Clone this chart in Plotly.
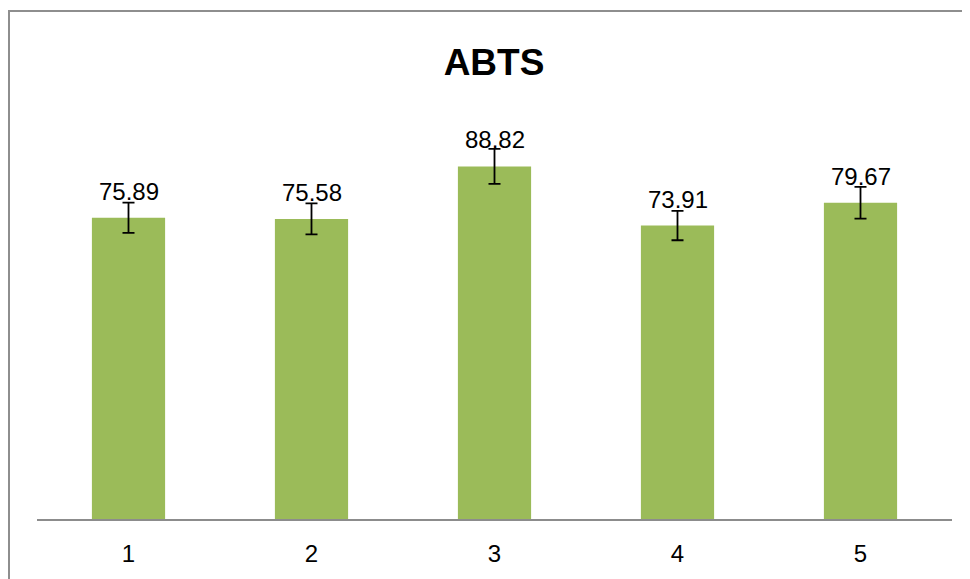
import plotly.graph_objects as go

categories = ["1", "2", "3", "4", "5"]
values = [75.89, 75.58, 88.82, 73.91, 79.67]
errors = [3.8, 3.9, 4.4, 3.7, 4.0]
labels = ["75.89", "75.58", "88.82", "73.91", "79.67"]

BAR = "#9BBB59"
FONT = "Liberation Sans, Arial, sans-serif"

# The page body has an 8px margin, so the figure is sized/offset to compensate.
W, H = 962, 571
L, R, T, B = 29, 18, 114, 60
PW, PH = W - L - R, H - T - B

fig = go.Figure()
fig.add_trace(go.Bar(
    x=categories, y=values,
    marker=dict(color=BAR, line=dict(width=0)),
    error_y=dict(type="data", array=errors, visible=True,
                 color="black", thickness=1.8, width=6),
    hoverinfo="skip",
))

for i, (v, t) in enumerate(zip(values, labels)):
    fig.add_annotation(x=i, y=v, text=t, showarrow=False,
                       xref="x", yref="y", yanchor="bottom",
                       yshift=11, font=dict(size=24, color="black", family=FONT))

fig.update_layout(
    width=W, height=H,
    margin=dict(l=L, r=R, t=T, b=B, autoexpand=False),
    paper_bgcolor="white", plot_bgcolor="white",
    bargap=0.6,
    showlegend=False,
    title=dict(text="<b>ABTS</b>", x=486 / W, xanchor="center",
               y=1 - 54 / H, yanchor="middle", yref="container",
               font=dict(size=37, color="black", family=FONT)),
    xaxis=dict(type="category", range=[-0.5, 4.5], automargin=False,
               showline=True, linecolor="#8C8C8C", linewidth=2,
               ticks="", showgrid=False, zeroline=False,
               tickfont=dict(size=24, color="black", family=FONT),
               ticklabelstandoff=12, fixedrange=True),
    yaxis=dict(range=[0, 100], visible=False, showgrid=False, automargin=False,
               zeroline=False, fixedrange=True),
)

# outer chart border (left and top edges visible within the frame)
fig.add_shape(type="rect", xref="paper", yref="paper",
              x0=(1 - L) / PW, x1=(W + 20 - L) / PW,
              y0=-(B + 20) / PH, y1=(H - 3 - B) / PH,
              line=dict(color="#8E8E8E", width=2), fillcolor="rgba(0,0,0,0)",
              layer="below")

fig.write_html("out.html")
